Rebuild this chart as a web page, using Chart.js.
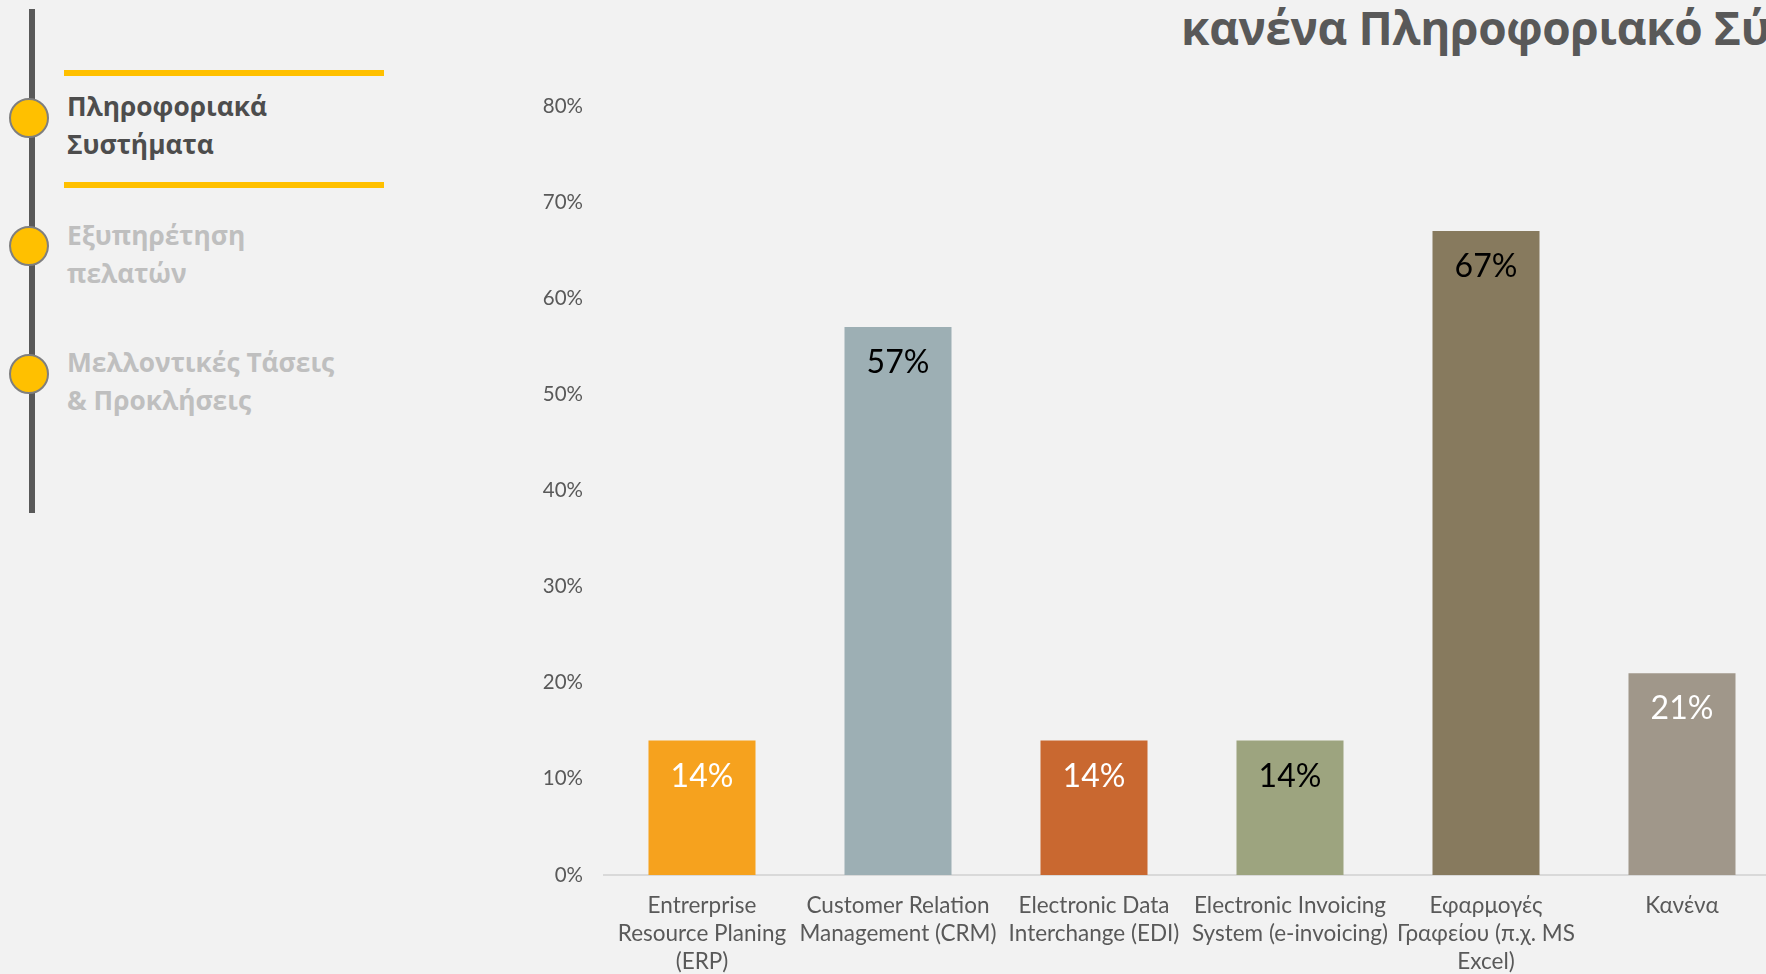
<!DOCTYPE html>
<html>
<head>
<meta charset="utf-8">
<script src="https://cdn.jsdelivr.net/npm/chart.js@4.4.1/dist/chart.umd.min.js"></script>
<style>
    html, body {
        margin: 0;
        padding: 0;
        width: 1766px;
        height: 974px;
        overflow: hidden;
        background: #F2F2F2;
        font-family: "Open Sans", sans-serif;
    }
    #timeline {
        position: absolute;
        left: 29px;
        top: 9px;
        width: 6px;
        height: 504px;
        background: #595959;
    }
    .dot {
        position: absolute;
        left: 9px;
        width: 36px;
        height: 36px;
        border-radius: 50%;
        background: #FFC000;
        border: 2.5px solid #7F7F7F;
    }
    .rule {
        position: absolute;
        left: 64px;
        width: 320px;
        height: 6px;
        background: #FFC000;
    }
    .nav {
        position: absolute;
        left: 67px;
        font-size: 26.3px;
        line-height: 37.5px;
        font-weight: 700;
        color: #BFBFBF;
        white-space: nowrap;
    }
    .nav.active {
        color: #4D4D4D;
    }
    #title {
        position: absolute;
        left: 1181px;
        top: 4px;
        font-size: 46px;
        line-height: 46px;
        font-weight: 700;
        color: #595959;
        white-space: nowrap;
        letter-spacing: -0.4px;
    }
    #chartBox {
        position: absolute;
        left: 480px;
        top: 60px;
    }
</style>
</head>
<body>

<!-- Section navigation -->
<div id="timeline"></div>
<div class="dot" style="top: 98px;"></div>
<div class="dot" style="top: 226px;"></div>
<div class="dot" style="top: 354px;"></div>
<div class="rule" style="top: 70px;"></div>
<div class="rule" style="top: 182px;"></div>
<div class="nav active" style="top: 88px;">Πληροφοριακά<br>Συστήματα</div>
<div class="nav" style="top: 217px;">Εξυπηρέτηση<br>πελατών</div>
<div class="nav" style="top: 344px;">Μελλοντικές Τάσεις<br>&amp; Προκλήσεις</div>

<div id="title">κανένα Πληροφοριακό Σύστημα</div>

<div id="chartBox">
    <canvas id="usageChart" width="1320" height="914"></canvas>
</div>

<script>
//#region Data

const categories = [
    ['Entrerprise', 'Resource Planing', '(ERP)'],
    ['Customer Relation', 'Management (CRM)'],
    ['Electronic Data', 'Interchange (EDI)'],
    ['Electronic Invoicing', 'System (e-invoicing)'],
    ['Εφαρμογές', 'Γραφείου (π.χ. MS', 'Excel)'],
    ['Κανένα']
];

// Share of companies per system, in percent.
const shares = [14, 57, 14, 14, 67, 21];

const barColors = ['#F6A21E', '#9DAFB4', '#C96830', '#9DA47F', '#877A5E', '#A0978A'];
const labelColors = ['#FFFFFF', '#000000', '#FFFFFF', '#000000', '#000000', '#FFFFFF'];

const yTicks = [0, 10, 20, 30, 40, 50, 60, 70, 80];

//#endregion

//#region Chart

// Writes the value inside the top of every bar.
const barValueLabels = {
    id: 'barValueLabels',
    afterDatasetsDraw(chart) {
        const ctx = chart.ctx;
        const meta = chart.getDatasetMeta(0);
        ctx.save();
        ctx.font = '32px Lato';
        ctx.textAlign = 'center';
        ctx.textBaseline = 'middle';
        meta.data.forEach((bar, i) => {
            ctx.fillStyle = labelColors[i];
            ctx.fillText(shares[i] + '%', bar.x, bar.y + 36);
        });
        ctx.restore();
    }
};

function Initialize_UsageChart(chartID) {

    const data = {
        labels: categories,
        datasets: [{
            data: shares,
            backgroundColor: barColors,
            borderWidth: 0,
            categoryPercentage: 1.0,
            barPercentage: 0.546
        }]
    };

    const ctx = document.getElementById(chartID);

    const config = {
        type: 'bar',
        data: data,
        plugins: [barValueLabels],
        options: {
            responsive: false,
            animation: false,
            layout: {
                padding: { top: 46, right: 20, left: 0, bottom: 0 }
            },
            plugins: {
                legend: { display: false },
                tooltip: { enabled: false }
            },
            scales: {
                x: {
                    grid: { display: false, drawTicks: false },
                    border: { display: true, color: '#D9D9D9', width: 2 },
                    ticks: {
                        autoSkip: false,
                        maxRotation: 0,
                        padding: 17,
                        color: '#595959',
                        font: { family: 'Lato', size: 22.5, lineHeight: 1.244 }
                    },
                    afterFit(scale) { scale.height = 99; }
                },
                y: {
                    min: 0,
                    max: 80,
                    grid: { display: false, drawTicks: false },
                    border: { display: false },
                    afterBuildTicks(scale) {
                        scale.ticks = yTicks.map(v => ({ value: v }));
                    },
                    ticks: {
                        padding: 21,
                        color: '#595959',
                        font: { family: 'Lato', size: 20.5 },
                        callback: v => v + '%'
                    },
                    afterFit(scale) { scale.width = 124; }
                }
            }
        }
    };

    return new Chart(ctx, config);
}

Initialize_UsageChart('usageChart');

//#endregion
</script>
</body>
</html>
